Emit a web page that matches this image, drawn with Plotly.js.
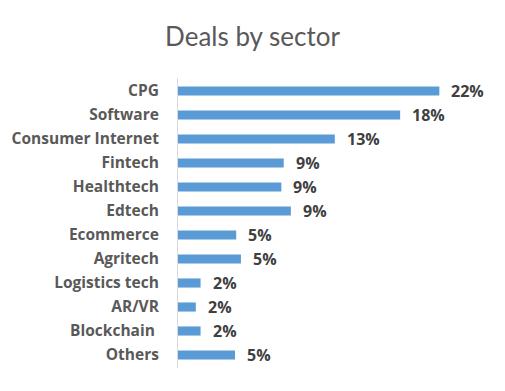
<!DOCTYPE html>
<html><head><meta charset="utf-8">
<script src="https://cdn.plot.ly/plotly-3.0.1.min.js"></script>
<style>html,body{margin:0;padding:0;background:#fff;}#chart{width:505px;height:391px;}</style>
</head><body><div id="chart"></div>
<script>
const sectors = ["CPG","Software","Consumer Internet","Fintech","Healthtech","Edtech","Ecommerce","Agritech","Logistics tech","AR/VR","Blockchain ","Others"];
const shares = [22.0, 18.7, 13.2, 8.9, 8.7, 9.5, 4.9, 5.3, 1.9, 1.5, 1.9, 4.8];
const shareLabels = ["22%","18%","13%","9%","9%","9%","5%","5%","2%","2%","2%","5%"];

const trace = {
  type: 'bar', orientation: 'h',
  y: sectors, x: shares,
  marker: {color: '#5b9bd5'},
  hoverinfo: 'none'
};
const annotations = sectors.map((s, i) => ({
  x: shares[i], y: s, xref: 'x', yref: 'y',
  text: shareLabels[i], showarrow: false,
  xanchor: 'left', yanchor: 'middle', xshift: 10, yshift: 0,
  font: {family: 'Open Sans, sans-serif', size: 16, color: '#404040', weight: 'bold'}
}));
const layout = {
  width: 505, height: 391,
  margin: {l: 178, r: 30, t: 78, b: 23},
  paper_bgcolor: '#fff', plot_bgcolor: '#fff',
  title: {text: 'Deals by sector', x: 0.5, xanchor: 'center', y: 0.905, yanchor: 'middle',
    font: {family: 'Lato, sans-serif', size: 26, color: '#595959'}},
  bargap: 0.62,
  showlegend: false,
  xaxis: {range: [0, 25], showgrid: false, zeroline: false, showticklabels: false, showline: false, fixedrange: true},
  yaxis: {autorange: 'reversed', showline: true, linecolor: '#d9d9d9', linewidth: 1,
    ticks: 'outside', ticklen: 15, tickcolor: 'rgba(0,0,0,0)', showgrid: false, zeroline: false,
    tickfont: {family: 'Open Sans, sans-serif', size: 15.5, color: '#595959', weight: 'bold'}},
  annotations: annotations
};
Plotly.newPlot('chart', [trace], layout, {displayModeBar: false, staticPlot: true});
</script></body></html>
